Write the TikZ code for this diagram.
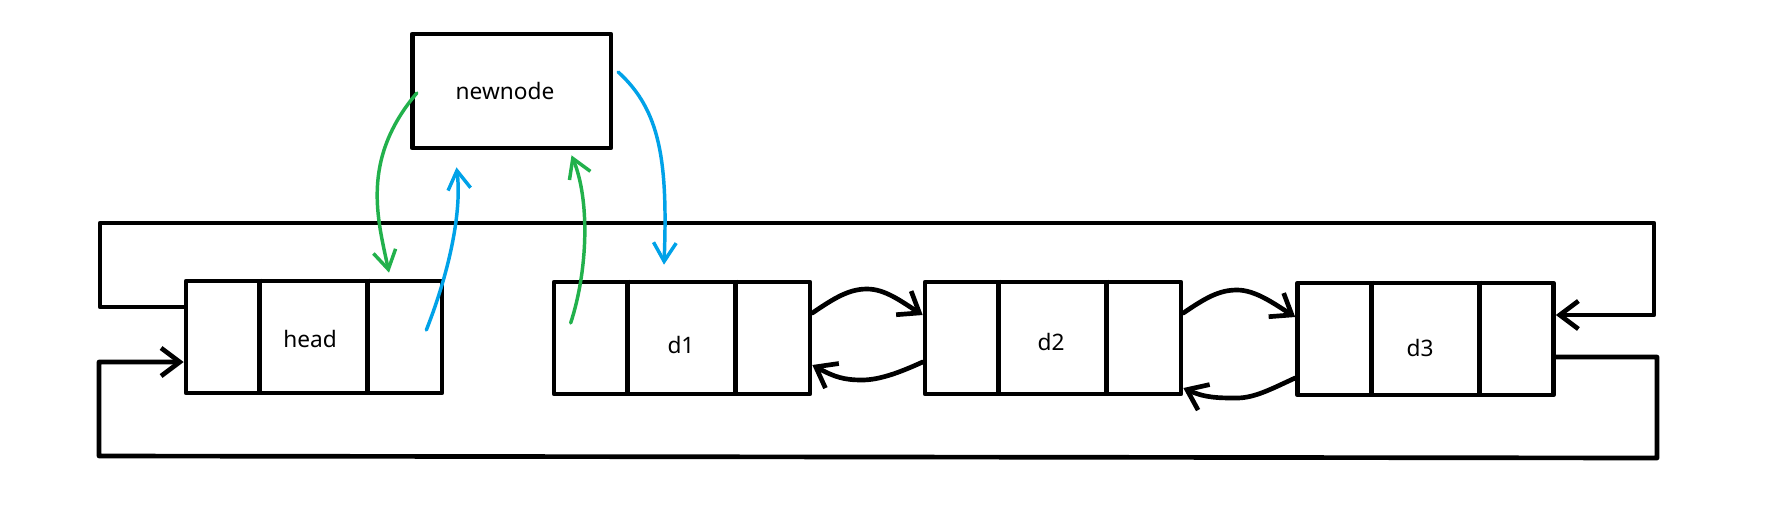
\documentclass[tikz,border=0pt]{standalone}
\usepackage{fontspec}
\setmainfont{Noto Sans}
\usetikzlibrary{arrows.meta,calc}
\definecolor{pgreen}{HTML}{22B14C}
\definecolor{pblue}{HTML}{00A2E8}
\begin{document}
\begin{tikzpicture}[x=0.75pt,y=-0.75pt,line cap=round,line join=round,
  listbox/.style={draw,line width=3.5pt,rectangle,minimum width=192pt,minimum height=84pt,inner sep=0pt},
  newbox/.style={draw,line width=3.5pt,rectangle,minimum width=149pt,minimum height=85.5pt,inner sep=0pt},
  lbl/.style={font=\fontsize{17pt}{20pt}\selectfont,inner sep=0pt},
  divider/.style={line width=3.5pt,line cap=butt},
  arr/.style={line width=3.5pt,-{Straight Barb[length=14pt,width=21pt]}},
  garr/.style={line width=2.6pt,pgreen,-{Straight Barb[length=14pt,width=17pt]}},
  barr/.style={line width=2.6pt,pblue,-{Straight Barb[length=14pt,width=17pt]}}]
\useasboundingbox (0,0) rectangle (1776,515);
\fill[white] (0,0) rectangle (1776,515);

% list boxes
\node[listbox] (head) at (314,337) {};
\node[listbox] (d1) at (682,338) {};
\node[listbox] (d2) at (1053,338) {};
\node[listbox] (d3) at (1425.5,339) {};
\node[newbox] (newnode) at (511.5,91) {};

% dividers
\foreach \n in {head,d1,d2,d3}{
  \draw[divider] ($(\n.north west)+(76,0)$) -- ($(\n.south west)+(76,0)$);
  \draw[divider] ($(\n.north west)+(184,0)$) -- ($(\n.south west)+(184,0)$);
}

% labels
\node[lbl] (tnew) at (505,91) {newnode};
\node[lbl] (thead) at (310,339) {head};
\node[lbl] (td1) at (681,345) {d1};
\node[lbl] (td2) at (1051,342) {d2};
\node[lbl] (td3) at (1420,348) {d3};

% links between nodes
\coordinate (p12) at (867,289);
\coordinate (p21) at (862,380);
\coordinate (p23) at (1237,290);
\coordinate (p32) at (1237,398);
\draw[arr] ($(d1.east)+(0,-25)$) .. controls +(22,-15) and +(-18,0) .. (p12) .. controls +(18,0) and +(-22,-14) .. ($(d2.west)+(0,-23)$);
\draw[arr] ($(d2.west)+(0,24)$) .. controls +(-22,10) and +(18,0) .. (p21) .. controls +(-18,0) and +(22,12) .. ($(d1.east)+(0,27)$);
\draw[arr] ($(d2.east)+(0,-25)$) .. controls +(22,-15) and +(-18,0) .. (p23) .. controls +(18,0) and +(-22,-14) .. ($(d3.west)+(0,-22)$);
\draw[arr] ($(d3.west)+(0,39)$) .. controls +(-22,10) and +(18,0) .. (p32) .. controls +(-18,0) and +(22,10) .. ($(d2.east)+(0,50)$);

% outer loops
\coordinate (tl) at (100,223);
\coordinate (tr) at (1654,223);
\coordinate (br) at (1657,458);
\coordinate (bl) at (99,456);
\draw[arr] ($(head.west)+(0,-30)$) -| (tl) -- (tr) |- ($(d3.east)+(0,-24)$);
\draw[arr] ($(d3.east)+(0,18)$) -| (br) -- (bl) |- ($(head.west)+(0,25)$);

% coloured insertion links
\draw[garr] ($(newnode.west)+(7,2)$) .. controls (360,160) and (378,220) .. ($(head.north)+(75,-6)$);
\draw[barr] ($(head.east)+(-18,-7)$) .. controls (450,270) and (462,210) .. ($(newnode.south)+(-55,17)$);
\draw[garr] ($(d1.west)+(19,-15)$) .. controls (588,270) and (590,200) .. ($(newnode.south)+(60,5)$);
\draw[barr] ($(newnode.east)+(5,-19)$) .. controls (660,110) and (668,160) .. ($(d1.north)+(-18,-15)$);
\end{tikzpicture}
\end{document}
